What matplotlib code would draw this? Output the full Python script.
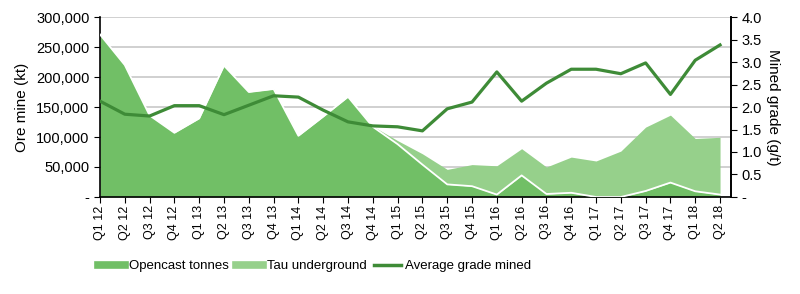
import matplotlib
matplotlib.use("Agg")
import matplotlib.pyplot as plt
from matplotlib.lines import Line2D
from matplotlib.ticker import FuncFormatter
import numpy as np

quarters = ["Q1 12", "Q2 12", "Q3 12", "Q4 12", "Q1 13", "Q2 13", "Q3 13", "Q4 13",
            "Q1 14", "Q2 14", "Q3 14", "Q4 14", "Q1 15", "Q2 15", "Q3 15", "Q4 15",
            "Q1 16", "Q2 16", "Q3 16", "Q4 16", "Q1 17", "Q2 17", "Q3 17", "Q4 17",
            "Q1 18", "Q2 18"]
opencast = [271000, 220000, 136000, 107000, 131000, 219000, 175000, 180000,
            102000, 134000, 167000, 117000, 88000, 54000, 21000, 18000,
            4000, 36000, 5000, 7000, 0, 0, 10000, 24000, 9500, 4000]
tau = [0, 0, 0, 0, 0, 0, 0, 0,
       0, 0, 0, 1000, 6000, 18000, 25000, 36000,
       48000, 44500, 45000, 59500, 60000, 76500, 106500, 112500, 88000, 95500]
grade = [2.13, 1.84, 1.80, 2.03, 2.03, 1.83, 2.04, 2.25,
         2.22, 1.93, 1.67, 1.58, 1.56, 1.47, 1.96, 2.11,
         2.78, 2.13, 2.53, 2.84, 2.84, 2.74, 2.98, 2.28, 3.04, 3.38]

c_open = "#71BF66"
c_tau = "#96D08B"
c_line = "#3E8B37"

plt.rcParams['font.family'] = ['Liberation Sans', 'DejaVu Sans']

fig = plt.figure(figsize=(8, 2.94), dpi=100)
ax = fig.add_axes([0.125, 0.330, 0.789, 0.612])
x = np.arange(len(quarters))
op = np.array(opencast)
tu = np.array(tau)

ax.fill_between(x, 0, op, color=c_open, lw=0, zorder=2)
ax.fill_between(x, op, op + tu, color=c_tau, lw=0, zorder=2)
ax.plot(x, op, color="white", lw=1.3, zorder=3)

ax.set_xlim(0, 25.45)
ax.set_ylim(0, 300000)
ax.set_yticks(np.arange(0, 300001, 50000))
ax.yaxis.set_major_formatter(FuncFormatter(lambda v, p: "-" if v == 0 else f"{int(v):,}"))
ax.grid(axis="y", color="#C8C8C8", lw=1.2, zorder=0)
ax.set_axisbelow(True)
ax.set_xticks(x)
ax.set_xticklabels(quarters, rotation=90, fontsize=9)
ax.tick_params(axis="y", labelsize=10.5, direction="out", length=4, color="black")
ax.tick_params(axis="x", direction="out", length=4, color="black", pad=2)
ax.set_ylabel("Ore mine (kt)", fontsize=11, labelpad=5)
ax.spines["top"].set_visible(False)
for s in ["left", "bottom", "right"]:
    ax.spines[s].set_color("black")
    ax.spines[s].set_linewidth(1.2)

ax2 = ax.twinx()
ax2.plot(x, grade, color=c_line, lw=2.3, zorder=4)
ax2.set_ylim(0, 4.0)
ax2.set_yticks(np.arange(0, 4.01, 0.5))
ax2.yaxis.set_major_formatter(FuncFormatter(lambda v, p: "-" if v == 0 else f"{v:.1f}"))
ax2.tick_params(axis="y", labelsize=10.5, direction="out", length=4, color="black")
ax2.set_ylabel("Mined grade (g/t)", fontsize=11, rotation=270, labelpad=13)
ax2.spines["top"].set_visible(False)
ax2.spines["right"].set_linewidth(1.2)
ax2.spines["left"].set_visible(False)
ax2.spines["bottom"].set_visible(False)

handles = [Line2D([], [], color=c_open, lw=5.5),
           Line2D([], [], color=c_tau, lw=5.5),
           Line2D([], [], color=c_line, lw=2.5)]
labels = ["Opencast tonnes", "Tau underground", "Average grade mined"]
fig.legend(handles, labels, loc="center left", bbox_to_anchor=(0.108, 0.095), ncol=3,
           frameon=False, handlelength=2.05, handletextpad=0.3, columnspacing=0.55,
           prop={'size': 9.5})

fig.savefig("out.png", dpi=100)
